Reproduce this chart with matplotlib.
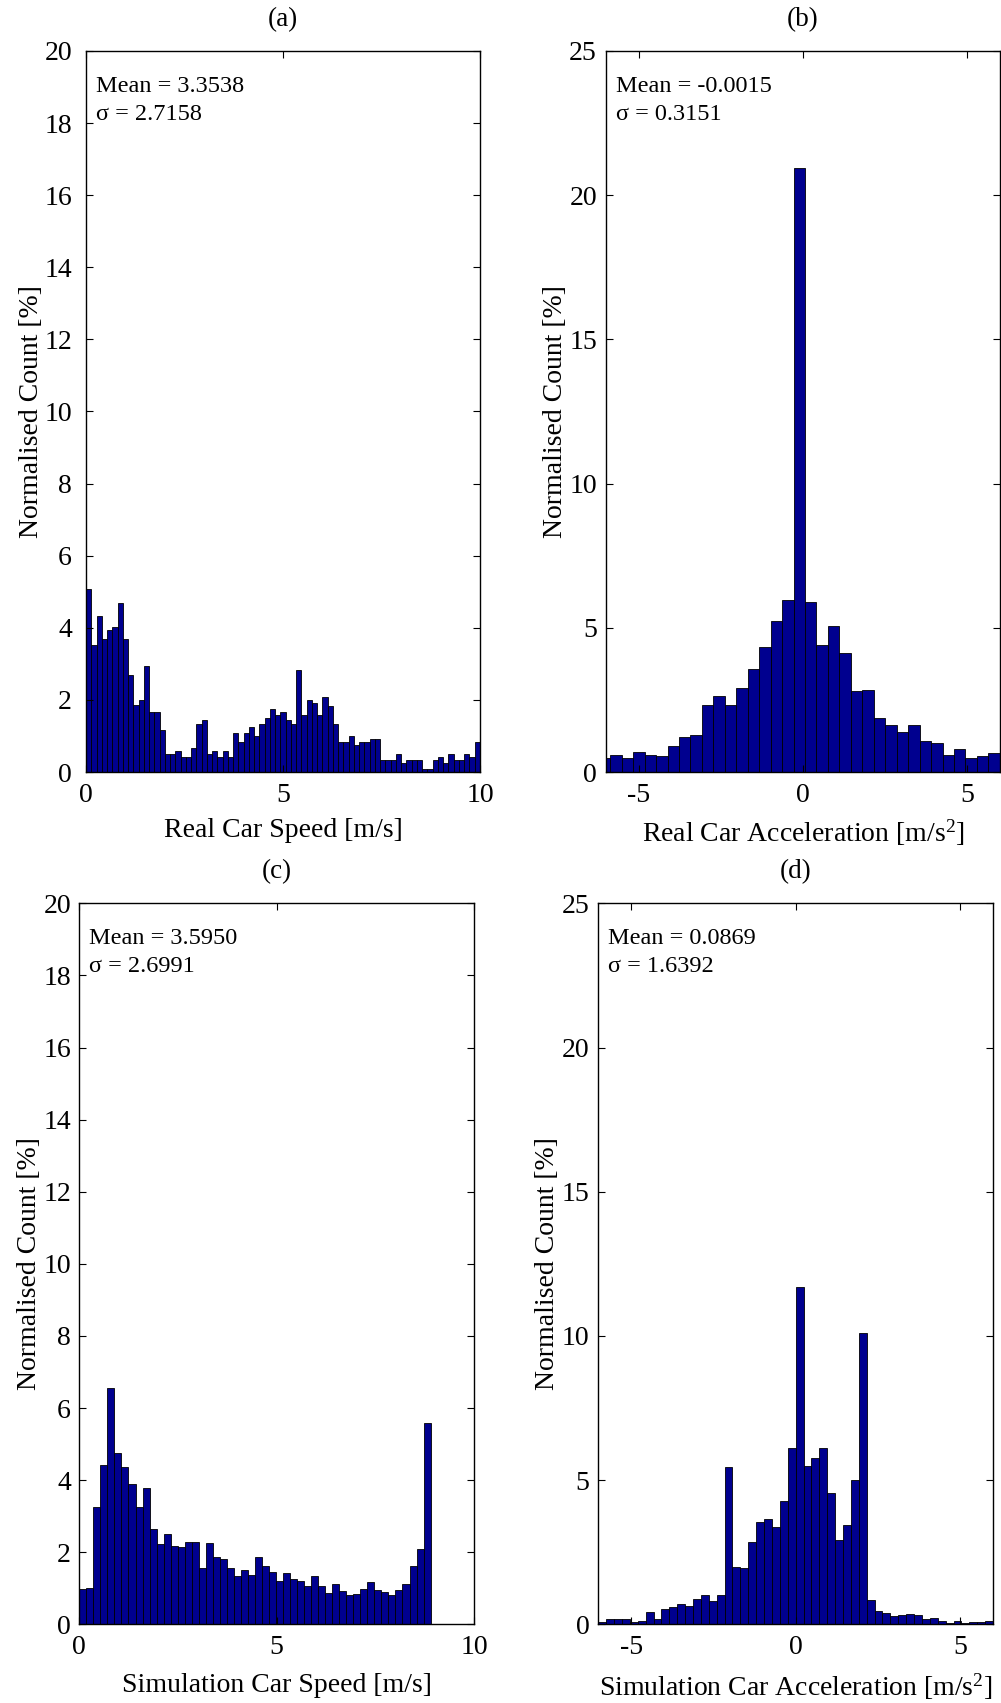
import numpy as np
import matplotlib
matplotlib.use("Agg")
import matplotlib.pyplot as plt

plt.rcParams['font.family'] = ['Liberation Serif', 'DejaVu Serif']
plt.rcParams['mathtext.fontset'] = 'custom'
plt.rcParams['mathtext.rm'] = 'Liberation Serif'
plt.rcParams['mathtext.it'] = 'Liberation Serif:italic'
plt.rcParams['axes.unicode_minus'] = False

# --- data (normalised counts, %) ---

# (a) real car speed, 75 bins over 0..10 m/s
speed_real_range = (0.0, 10.0)
speed_real = [5.09, 3.51, 4.33, 3.69, 3.94, 4.01, 4.69, 3.69, 2.68, 1.85,
              2.00, 2.93, 1.67, 1.67, 1.17, 0.50, 0.50, 0.58, 0.42, 0.42,
              0.67, 1.33, 1.43, 0.50, 0.58, 0.42, 0.58, 0.42, 1.09, 0.83,
              1.09, 1.26, 1.00, 1.34, 1.50, 1.75, 1.59, 1.67, 1.43, 1.34,
              2.84, 1.59, 2.00, 1.92, 1.59, 2.09, 1.84, 1.34, 0.83, 0.83,
              1.00, 0.75, 0.83, 0.83, 0.92, 0.92, 0.33, 0.33, 0.33, 0.50,
              0.25, 0.33, 0.33, 0.33, 0.08, 0.08, 0.33, 0.42, 0.25, 0.50,
              0.33, 0.33, 0.50, 0.42, 0.83]

# (b) real car acceleration, 35 bins starting at -6.22 (first one clipped)
acc_real_range = (-6.22, 5.995)
acc_real = [0.50, 0.60, 0.50, 0.71, 0.60, 0.54, 0.91, 1.23, 1.28, 2.34,
            2.65, 2.34, 2.91, 3.58, 4.34, 5.22, 5.96, 20.93, 5.89, 4.39,
            5.06, 4.13, 2.80, 2.86, 1.86, 1.64, 1.39, 1.64, 1.08, 1.02,
            0.60, 0.81, 0.50, 0.54, 0.65]

# (c) simulated car speed, 50 bins over 0..8.9 m/s
speed_sim_range = (0.0, 8.9)
speed_sim = [0.98, 1.00, 3.25, 4.43, 6.56, 4.75, 4.36, 3.89, 3.25, 3.79,
             2.65, 2.22, 2.50, 2.18, 2.14, 2.29, 2.29, 1.57, 2.26, 1.86,
             1.81, 1.55, 1.35, 1.50, 1.38, 1.86, 1.62, 1.44, 1.19, 1.42,
             1.27, 1.21, 1.07, 1.35, 1.05, 0.86, 1.11, 0.91, 0.81, 0.85,
             0.97, 1.17, 0.94, 0.89, 0.81, 0.95, 1.12, 1.62, 2.09, 5.58]

# (d) simulated car acceleration, 50 bins over -6..6
acc_sim_range = (-6.0, 6.0)
acc_sim = [0.09, 0.20, 0.20, 0.20, 0.07, 0.13, 0.44, 0.20, 0.52, 0.60,
           0.72, 0.62, 0.88, 1.03, 0.82, 1.00, 5.46, 1.97, 1.95, 2.86,
           3.53, 3.65, 3.38, 4.26, 6.12, 11.69, 5.49, 5.76, 6.12, 4.54,
           2.94, 3.44, 4.99, 10.10, 0.85, 0.45, 0.39, 0.30, 0.32, 0.35,
           0.32, 0.18, 0.22, 0.13, 0.05, 0.10, 0.05, 0.07, 0.07, 0.10]

stats = {
    'a': ('3.3538', '2.7158'),
    'b': ('-0.0015', '0.3151'),
    'c': ('3.5950', '2.6991'),
    'd': ('0.0869', '1.6392'),
}

W, H = 1001, 1703
BAR_COLOR = '#00008f'
FS = 20

fig = plt.figure(figsize=(W / 100, H / 100), dpi=100)


def make_panel(rect_px, rng, vals, xlim, ylim, yticks, xticks, title, xlabel,
               stat, ylab_x, ypad, xlab_pad):
    left, top, width, height = rect_px
    ax = fig.add_axes([left / W, 1 - (top + height) / H, width / W, height / H])
    edges = np.linspace(rng[0], rng[1], len(vals) + 1)
    ax.bar(edges[:-1], vals, width=np.diff(edges), align='edge',
           color=BAR_COLOR, edgecolor='black', linewidth=0.6)
    ax.set_xlim(*xlim)
    ax.set_ylim(*ylim)
    ax.set_xticks(xticks)
    ax.set_yticks(yticks)
    ax.tick_params(direction='in', top=True, right=True, length=5, width=0.8,
                   labelsize=FS)
    ax.tick_params(axis='y', pad=ypad)
    ax.tick_params(axis='x', pad=8)
    for sp in ax.spines.values():
        sp.set_linewidth(1.0)
    ax.set_title(title, fontsize=19.5, pad=18)
    ax.set_xlabel(xlabel, fontsize=FS, labelpad=xlab_pad)
    fig.text(ylab_x / W, 1 - (top + height / 2) / H, 'Normalised Count [%]',
             rotation=90, ha='center', va='center', fontsize=FS)
    ax.text(0.025, 1 - 41 / height, 'Mean = ' + stat[0], transform=ax.transAxes,
            fontsize=17.5, va='baseline')
    ax.text(0.025, 1 - 69 / height, '\u03c3 = ' + stat[1], transform=ax.transAxes,
            fontsize=17.5, va='baseline')
    return ax


make_panel((86, 51, 394, 721), speed_real_range, speed_real, (0, 10), (0, 20),
           range(0, 21, 2), [0, 5, 10], '(a)', 'Real Car Speed [m/s]',
           stats['a'], 32, 10, 7)
make_panel((606, 51, 394, 721), acc_real_range, acc_real, (-6, 6), (0, 25),
           range(0, 26, 5), [-5, 0, 5], '(b)', 'Real Car Acceleration [m/s$^2$]',
           stats['b'], 555, 6.5, 7)
make_panel((79.3, 903.3, 394.7, 721), speed_sim_range, speed_sim, (0, 10), (0, 20),
           range(0, 21, 2), [0, 5, 10], '(c)', 'Simulation Car Speed [m/s]',
           stats['c'], 30, 6, 9)
make_panel((598.3, 903.3, 394.7, 721), acc_sim_range, acc_sim, (-6, 6), (0, 25),
           range(0, 26, 5), [-5, 0, 5], '(d)', 'Simulation Car Acceleration [m/s$^2$]',
           stats['d'], 548, 6.5, 8)

fig.savefig('out.png', dpi=100)
